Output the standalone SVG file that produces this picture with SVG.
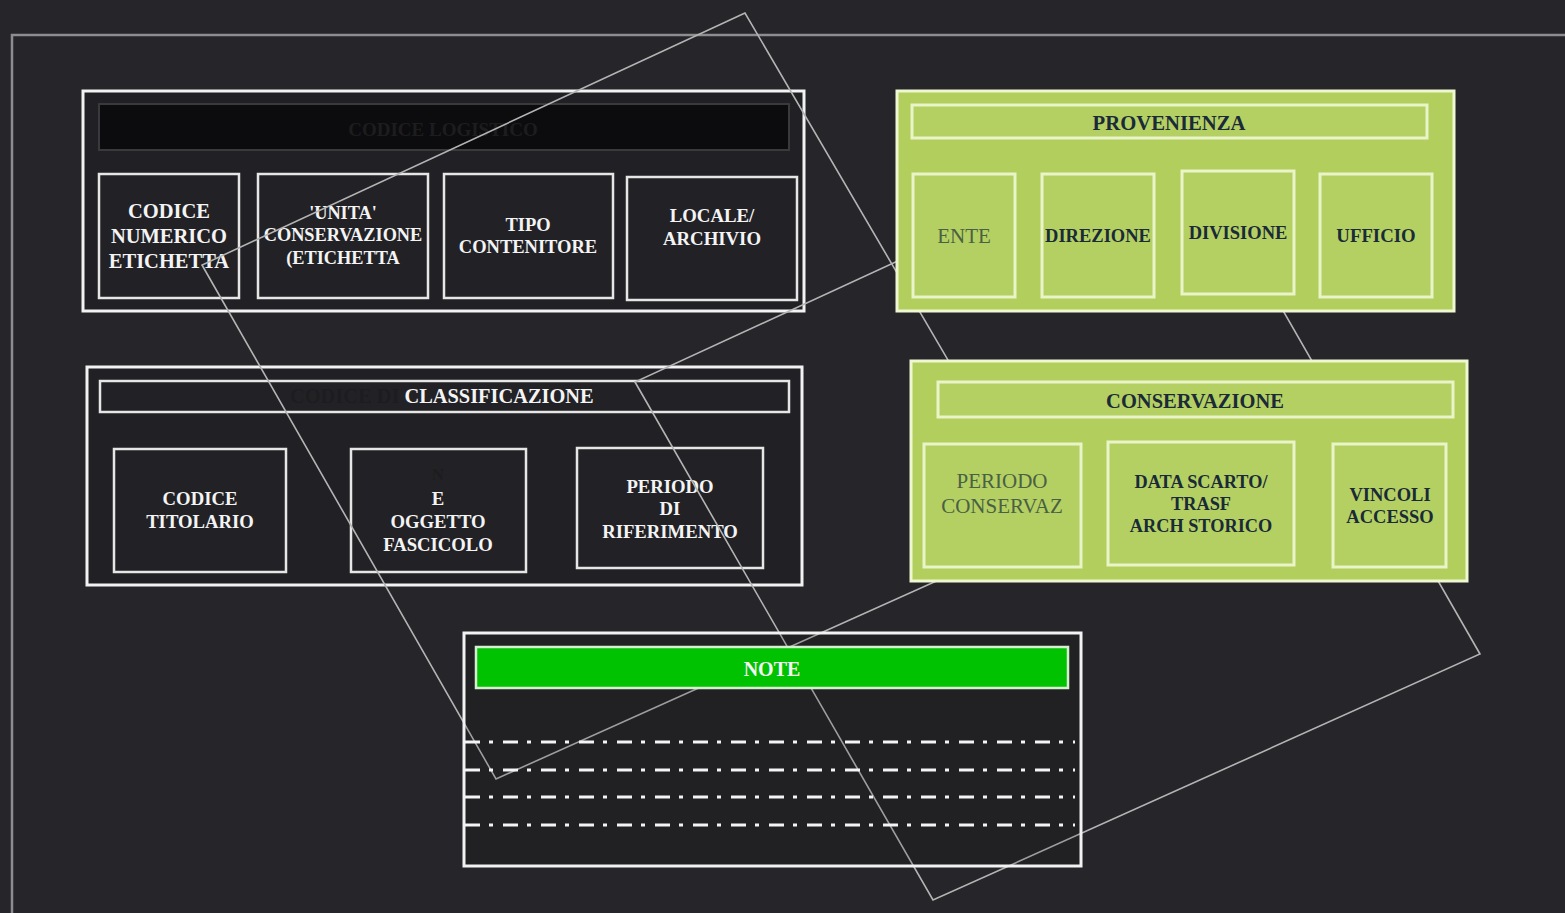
<svg xmlns="http://www.w3.org/2000/svg" width="1565" height="913" viewBox="0 0 1565 913">
<style>
.bg{fill:#26262a}
.frame{fill:none;stroke:#8d8d91;stroke-width:2.5}
.dbox{fill:#212125;stroke:#f2f2f2;stroke-width:3}
.dsub{fill:#222226;stroke:#e6e6e6;stroke-width:2.5}
.dhead{fill:#0c0c0e;stroke:#3a3a3c;stroke-width:2}
.gbox{fill:#b2cf5e;stroke:#eef7d2;stroke-width:3}
.gsub{fill:#b4d062;stroke:#e9f4c8;stroke-width:3}
.t{font-family:"Liberation Serif","Times New Roman",serif;font-weight:bold;text-anchor:middle}
.w{fill:#f4f4f4}
.k{fill:#1a2a38}
.r{font-weight:normal;fill:#4a6044}
.dk{fill:#1d1d1f}
.ol{fill:none;stroke:#b4b4b4;stroke-width:1.6}
.dash{stroke:#f4f4f4;stroke-width:3;stroke-dasharray:15 9 4 10}
</style>
<rect class="bg" x="0" y="0" width="1565" height="913"/>
<path class="frame" d="M12,913 V35 H1565"/>

<g id="codice-logistico">
<rect class="dbox" x="83" y="91" width="721" height="220"/>
<rect class="dhead" x="99" y="104" width="690" height="46"/>
<text class="t dk" x="443" y="136" font-size="19">CODICE LOGISTICO</text>
<rect class="dsub" x="99" y="174" width="140" height="124"/>
<text class="t w" x="169" font-size="20.5"><tspan x="169" y="218">CODICE</tspan><tspan x="169" y="243">NUMERICO</tspan><tspan x="169" y="268">ETICHETTA</tspan></text>
<rect class="dsub" x="258" y="174" width="170" height="124"/>
<text class="t w" x="343" font-size="18.3"><tspan x="343" y="219">'UNITA'</tspan><tspan x="343" y="241">CONSERVAZIONE</tspan><tspan x="343" y="264">(ETICHETTA</tspan></text>
<rect class="dsub" x="444" y="174" width="169" height="124"/>
<text class="t w" x="528" font-size="18.5"><tspan x="528" y="231">TIPO</tspan><tspan x="528" y="253">CONTENITORE</tspan></text>
<rect class="dsub" x="627" y="177" width="170" height="123"/>
<text class="t w" x="712" font-size="18.8"><tspan x="712" y="222">LOCALE/</tspan><tspan x="712" y="245">ARCHIVIO</tspan></text>
</g>

<g id="codice-classificazione">
<rect class="dbox" x="87" y="367" width="715" height="218"/>
<rect class="dsub" x="100" y="381" width="689" height="31"/>
<text class="t" x="290" y="403" font-size="20.4" style="text-anchor:start"><tspan class="dk">CODICE DI </tspan><tspan class="w">CLASSIFICAZIONE</tspan></text>
<rect class="dsub" x="114" y="449" width="172" height="123"/>
<text class="t w" x="200" font-size="18.7"><tspan x="200" y="505">CODICE</tspan><tspan x="200" y="528">TITOLARIO</tspan></text>
<rect class="dsub" x="351" y="449" width="175" height="123"/>
<text class="t dk" x="438" y="480" font-size="17">N</text>
<text class="t w" x="438" font-size="18.7"><tspan x="438" y="505">E</tspan><tspan x="438" y="528">OGGETTO</tspan><tspan x="438" y="551">FASCICOLO</tspan></text>
<rect class="dsub" x="577" y="448" width="186" height="120"/>
<text class="t w" x="670" font-size="18.7"><tspan x="670" y="493">PERIODO</tspan><tspan x="670" y="515">DI</tspan><tspan x="670" y="538">RIFERIMENTO</tspan></text>
</g>

<g id="connectors">
<polygon class="ol" points="745,13 202,265 496,779 1048,531"/>
<polygon class="ol" points="1180,131 635,382 933,900 1480,654"/>
</g>

<g id="note">
<rect x="464" y="633" width="617" height="233" fill="#000" fill-opacity="0.12" stroke="#f2f2f2" stroke-width="3"/>
<rect x="476" y="647" width="592" height="41" fill="#00c200" stroke="#d6efcf" stroke-width="2.5"/>
<text class="t w" x="772" y="676" font-size="20">NOTE</text>
<line class="dash" x1="465" y1="742" x2="1075" y2="742"/>
<line class="dash" x1="465" y1="770" x2="1075" y2="770"/>
<line class="dash" x1="465" y1="797" x2="1075" y2="797"/>
<line class="dash" x1="465" y1="825" x2="1075" y2="825"/>
</g>

<g id="provenienza">
<rect class="gbox" x="897" y="91" width="557" height="220"/>
<rect class="gsub" x="912" y="105" width="515" height="33"/>
<text class="t k" x="1169" y="130" font-size="20.7">PROVENIENZA</text>
<rect class="gsub" x="913" y="174" width="102" height="123"/>
<text class="t r" x="964" y="243" font-size="21">ENTE</text>
<rect class="gsub" x="1042" y="174" width="112" height="123"/>
<text class="t k" x="1098" y="242" font-size="18.5">DIREZIONE</text>
<rect class="gsub" x="1182" y="171" width="112" height="123"/>
<text class="t k" x="1238" y="239" font-size="18.5">DIVISIONE</text>
<rect class="gsub" x="1320" y="174" width="112" height="123"/>
<text class="t k" x="1376" y="242" font-size="18.8">UFFICIO</text>
</g>

<g id="conservazione">
<rect class="gbox" x="911" y="361" width="556" height="220"/>
<rect class="gsub" x="938" y="382" width="515" height="35"/>
<text class="t k" x="1195" y="408" font-size="20.5">CONSERVAZIONE</text>
<rect class="gsub" x="924" y="444" width="157" height="123"/>
<text class="t r" x="1002" font-size="21"><tspan x="1002" y="488">PERIODO</tspan><tspan x="1002" y="513">CONSERVAZ</tspan></text>
<rect class="gsub" x="1108" y="442" width="186" height="123"/>
<text class="t k" x="1201" font-size="18.3"><tspan x="1201" y="488">DATA SCARTO/</tspan><tspan x="1201" y="510">TRASF</tspan><tspan x="1201" y="532">ARCH STORICO</tspan></text>
<rect class="gsub" x="1333" y="444" width="113" height="123"/>
<text class="t k" x="1390" font-size="18.5"><tspan x="1390" y="501">VINCOLI</tspan><tspan x="1390" y="523">ACCESSO</tspan></text>
</g>
</svg>
